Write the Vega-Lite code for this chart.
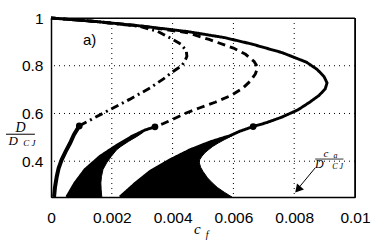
{
  "$schema": "https://vega.github.io/schema/vega-lite/v6.json",
  "width": 304,
  "height": 179,
  "autosize": "none",
  "padding": {"left": 51, "top": 18, "right": 37, "bottom": 45},
  "background": "white",
  "config": {
    "view": {"stroke": "black", "strokeWidth": 1},
    "axis": {"labelFont": "Liberation Sans", "labelFontSize": 15.5, "labelColor": "black", "ticks": false, "domainColor": "black", "domainWidth": 1.5, "grid": false, "labelFlush": false}
  },
  "datasets": {
    "curves": [
      {"curve": "S", "style": "solid", "ord": 0, "cf": 0, "D": 1},
      {"curve": "S", "style": "solid", "ord": 1, "cf": 0.0015, "D": 0.985},
      {"curve": "S", "style": "solid", "ord": 2, "cf": 0.003, "D": 0.966},
      {"curve": "S", "style": "solid", "ord": 3, "cf": 0.0045, "D": 0.943},
      {"curve": "S", "style": "solid", "ord": 4, "cf": 0.0057, "D": 0.918},
      {"curve": "S", "style": "solid", "ord": 5, "cf": 0.0066, "D": 0.891},
      {"curve": "S", "style": "solid", "ord": 6, "cf": 0.0076, "D": 0.855},
      {"curve": "S", "style": "solid", "ord": 7, "cf": 0.0084, "D": 0.815},
      {"curve": "S", "style": "solid", "ord": 8, "cf": 0.00875, "D": 0.785},
      {"curve": "S", "style": "solid", "ord": 9, "cf": 0.00898, "D": 0.755},
      {"curve": "S", "style": "solid", "ord": 10, "cf": 0.00908, "D": 0.728},
      {"curve": "S", "style": "solid", "ord": 11, "cf": 0.00902, "D": 0.703},
      {"curve": "S", "style": "solid", "ord": 12, "cf": 0.00882, "D": 0.676},
      {"curve": "S", "style": "solid", "ord": 13, "cf": 0.00852, "D": 0.648},
      {"curve": "S", "style": "solid", "ord": 14, "cf": 0.00812, "D": 0.615},
      {"curve": "S", "style": "solid", "ord": 15, "cf": 0.0076, "D": 0.585},
      {"curve": "S", "style": "solid", "ord": 16, "cf": 0.0071, "D": 0.562},
      {"curve": "S", "style": "solid", "ord": 17, "cf": 0.00665, "D": 0.545},
      {"curve": "L3", "style": "solid", "ord": 0, "cf": 0.00665, "D": 0.545},
      {"curve": "L3", "style": "solid", "ord": 1, "cf": 0.0062, "D": 0.525},
      {"curve": "L3", "style": "solid", "ord": 2, "cf": 0.00589, "D": 0.507},
      {"curve": "L3", "style": "solid", "ord": 3, "cf": 0.00524, "D": 0.481},
      {"curve": "L3", "style": "solid", "ord": 4, "cf": 0.00458, "D": 0.448},
      {"curve": "L3", "style": "solid", "ord": 5, "cf": 0.00392, "D": 0.406},
      {"curve": "L3", "style": "solid", "ord": 6, "cf": 0.00326, "D": 0.357},
      {"curve": "L3", "style": "solid", "ord": 7, "cf": 0.00275, "D": 0.305},
      {"curve": "L3", "style": "solid", "ord": 8, "cf": 0.00227, "D": 0.25},
      {"curve": "Dd", "style": "dash", "ord": 0, "cf": 0, "D": 1},
      {"curve": "Dd", "style": "dash", "ord": 1, "cf": 0.0015, "D": 0.985},
      {"curve": "Dd", "style": "dash", "ord": 2, "cf": 0.003, "D": 0.966},
      {"curve": "Dd", "style": "dash", "ord": 3, "cf": 0.0045, "D": 0.938},
      {"curve": "Dd", "style": "dash", "ord": 4, "cf": 0.0052, "D": 0.91},
      {"curve": "Dd", "style": "dash", "ord": 5, "cf": 0.006, "D": 0.874},
      {"curve": "Dd", "style": "dash", "ord": 6, "cf": 0.0064, "D": 0.848},
      {"curve": "Dd", "style": "dash", "ord": 7, "cf": 0.00668, "D": 0.818},
      {"curve": "Dd", "style": "dash", "ord": 8, "cf": 0.0068, "D": 0.793},
      {"curve": "Dd", "style": "dash", "ord": 9, "cf": 0.00672, "D": 0.765},
      {"curve": "Dd", "style": "dash", "ord": 10, "cf": 0.00655, "D": 0.735},
      {"curve": "Dd", "style": "dash", "ord": 11, "cf": 0.0063, "D": 0.705},
      {"curve": "Dd", "style": "dash", "ord": 12, "cf": 0.0059, "D": 0.674},
      {"curve": "Dd", "style": "dash", "ord": 13, "cf": 0.0054, "D": 0.647},
      {"curve": "Dd", "style": "dash", "ord": 14, "cf": 0.0049, "D": 0.624},
      {"curve": "Dd", "style": "dash", "ord": 15, "cf": 0.00445, "D": 0.602},
      {"curve": "Dd", "style": "dash", "ord": 16, "cf": 0.00403, "D": 0.577},
      {"curve": "Dd", "style": "dash", "ord": 17, "cf": 0.0037, "D": 0.558},
      {"curve": "Dd", "style": "dash", "ord": 18, "cf": 0.00342, "D": 0.544},
      {"curve": "L2", "style": "solid", "ord": 0, "cf": 0.00342, "D": 0.544},
      {"curve": "L2", "style": "solid", "ord": 1, "cf": 0.0031, "D": 0.531},
      {"curve": "L2", "style": "solid", "ord": 2, "cf": 0.00266, "D": 0.504},
      {"curve": "L2", "style": "solid", "ord": 3, "cf": 0.00211, "D": 0.462},
      {"curve": "L2", "style": "solid", "ord": 4, "cf": 0.00161, "D": 0.42},
      {"curve": "L2", "style": "solid", "ord": 5, "cf": 0.00112, "D": 0.365},
      {"curve": "L2", "style": "solid", "ord": 6, "cf": 0.00079, "D": 0.309},
      {"curve": "L2", "style": "solid", "ord": 7, "cf": 0.00052, "D": 0.25},
      {"curve": "DD", "style": "dashdot", "ord": 0, "cf": 0, "D": 1},
      {"curve": "DD", "style": "dashdot", "ord": 1, "cf": 0.0015, "D": 0.985},
      {"curve": "DD", "style": "dashdot", "ord": 2, "cf": 0.0029, "D": 0.965},
      {"curve": "DD", "style": "dashdot", "ord": 3, "cf": 0.0035, "D": 0.945},
      {"curve": "DD", "style": "dashdot", "ord": 4, "cf": 0.00395, "D": 0.914},
      {"curve": "DD", "style": "dashdot", "ord": 5, "cf": 0.00428, "D": 0.89},
      {"curve": "DD", "style": "dashdot", "ord": 6, "cf": 0.00445, "D": 0.862},
      {"curve": "DD", "style": "dashdot", "ord": 7, "cf": 0.00447, "D": 0.84},
      {"curve": "DD", "style": "dashdot", "ord": 8, "cf": 0.0044, "D": 0.818},
      {"curve": "DD", "style": "dashdot", "ord": 9, "cf": 0.0043, "D": 0.8},
      {"curve": "DD", "style": "dashdot", "ord": 10, "cf": 0.00403, "D": 0.777},
      {"curve": "DD", "style": "dashdot", "ord": 11, "cf": 0.0037, "D": 0.745},
      {"curve": "DD", "style": "dashdot", "ord": 12, "cf": 0.00326, "D": 0.707},
      {"curve": "DD", "style": "dashdot", "ord": 13, "cf": 0.0026, "D": 0.66},
      {"curve": "DD", "style": "dashdot", "ord": 14, "cf": 0.00194, "D": 0.616},
      {"curve": "DD", "style": "dashdot", "ord": 15, "cf": 0.0014, "D": 0.58},
      {"curve": "DD", "style": "dashdot", "ord": 16, "cf": 0.00093, "D": 0.548}
    ],
    "lower1": [
      {"ord": 0, "cf": 0.00093, "D": 0.548},
      {"ord": 1, "cf": 0.00075, "D": 0.51},
      {"ord": 2, "cf": 0.00063, "D": 0.476},
      {"ord": 3, "cf": 0.00048, "D": 0.44},
      {"ord": 4, "cf": 0.00035, "D": 0.406},
      {"ord": 5, "cf": 0.00025, "D": 0.37},
      {"ord": 6, "cf": 0.00019, "D": 0.336},
      {"ord": 7, "cf": 0.00013, "D": 0.29},
      {"ord": 8, "cf": 0.0001, "D": 0.25}
    ],
    "regions": [
      {"region": "R2", "D": 0.25, "left": 0.00052, "right": 0.00167},
      {"region": "R2", "D": 0.28, "left": 0.00066, "right": 0.00165},
      {"region": "R2", "D": 0.309, "left": 0.00079, "right": 0.00164},
      {"region": "R2", "D": 0.336, "left": 0.00095, "right": 0.00166},
      {"region": "R2", "D": 0.365, "left": 0.00112, "right": 0.00171},
      {"region": "R2", "D": 0.393, "left": 0.00135, "right": 0.00183},
      {"region": "R2", "D": 0.42, "left": 0.00161, "right": 0.00198},
      {"region": "R2", "D": 0.448, "left": 0.0019, "right": 0.00216},
      {"region": "R2", "D": 0.462, "left": 0.00211, "right": 0.0023},
      {"region": "R2", "D": 0.483, "left": 0.00238, "right": 0.00255},
      {"region": "R2", "D": 0.504, "left": 0.00266, "right": 0.00283},
      {"region": "R2", "D": 0.52, "left": 0.00292, "right": 0.00302},
      {"region": "R3", "D": 0.25, "left": 0.00227, "right": 0.00595},
      {"region": "R3", "D": 0.27, "left": 0.00245, "right": 0.0057},
      {"region": "R3", "D": 0.29, "left": 0.00264, "right": 0.00547},
      {"region": "R3", "D": 0.31, "left": 0.00282, "right": 0.0053},
      {"region": "R3", "D": 0.33, "left": 0.003, "right": 0.00515},
      {"region": "R3", "D": 0.357, "left": 0.00326, "right": 0.005},
      {"region": "R3", "D": 0.375, "left": 0.00348, "right": 0.00492},
      {"region": "R3", "D": 0.393, "left": 0.00373, "right": 0.00488},
      {"region": "R3", "D": 0.406, "left": 0.00392, "right": 0.00489},
      {"region": "R3", "D": 0.42, "left": 0.00412, "right": 0.00496},
      {"region": "R3", "D": 0.435, "left": 0.00435, "right": 0.00506},
      {"region": "R3", "D": 0.448, "left": 0.00458, "right": 0.00518},
      {"region": "R3", "D": 0.462, "left": 0.00485, "right": 0.00532},
      {"region": "R3", "D": 0.476, "left": 0.00513, "right": 0.0055},
      {"region": "R3", "D": 0.49, "left": 0.00545, "right": 0.0057},
      {"region": "R3", "D": 0.502, "left": 0.00578, "right": 0.00589},
      {"region": "R3", "D": 0.507, "left": 0.00589, "right": 0.00595}
    ],
    "dots": [
      {"cf": 0.00093, "D": 0.548},
      {"cf": 0.00342, "D": 0.544},
      {"cf": 0.00665, "D": 0.545}
    ]
  },
  "layer": [
    {
      "data": {"name": "curves"},
      "mark": {"type": "line", "color": "black", "strokeWidth": 2.9, "strokeCap": "butt"},
      "encoding": {
        "x": {"field": "cf", "type": "quantitative", "title": null, "scale": {"domain": [0, 0.01], "nice": false, "zero": false},
              "axis": {"values": [0, 0.002, 0.004, 0.006, 0.008, 0.01], "format": "~g", "labelPadding": 13}},
        "y": {"field": "D", "type": "quantitative", "title": null, "scale": {"domain": [0.25, 1], "nice": false, "zero": false},
              "axis": {"values": [0.4, 0.6, 0.8, 1], "format": "~g", "labelPadding": 8}},
        "detail": {"field": "curve", "type": "nominal"},
        "order": {"field": "ord", "type": "quantitative"},
        "strokeDash": {"field": "style", "type": "nominal", "scale": {"domain": ["solid", "dash", "dashdot"], "range": [[1, 0], [8, 5], [8, 4, 2, 4]]}, "legend": null}
      }
    },
    {
      "data": {"values": [{}]},
      "mark": {"type": "rule", "color": "black", "strokeWidth": 1, "strokeDash": [1, 4]},
      "encoding": {"x": {"datum": 0.002, "type": "quantitative", "title": null}}
    },
    {
      "data": {"values": [{}]},
      "mark": {"type": "rule", "color": "black", "strokeWidth": 1, "strokeDash": [1, 4]},
      "encoding": {"x": {"datum": 0.004, "type": "quantitative", "title": null}}
    },
    {
      "data": {"values": [{}]},
      "mark": {"type": "rule", "color": "black", "strokeWidth": 1, "strokeDash": [1, 4]},
      "encoding": {"x": {"datum": 0.006, "type": "quantitative", "title": null}}
    },
    {
      "data": {"values": [{}]},
      "mark": {"type": "rule", "color": "black", "strokeWidth": 1, "strokeDash": [1, 4]},
      "encoding": {"x": {"datum": 0.008, "type": "quantitative", "title": null}}
    },
    {
      "data": {"values": [{}]},
      "mark": {"type": "rule", "color": "black", "strokeWidth": 1, "strokeDash": [1, 4]},
      "encoding": {"y": {"datum": 0.4, "type": "quantitative", "title": null}}
    },
    {
      "data": {"values": [{}]},
      "mark": {"type": "rule", "color": "black", "strokeWidth": 1, "strokeDash": [1, 4]},
      "encoding": {"y": {"datum": 0.6, "type": "quantitative", "title": null}}
    },
    {
      "data": {"values": [{}]},
      "mark": {"type": "rule", "color": "black", "strokeWidth": 1, "strokeDash": [1, 4]},
      "encoding": {"y": {"datum": 0.8, "type": "quantitative", "title": null}}
    },
    {
      "data": {"values": [{}]},
      "mark": {"type": "rule", "color": "black", "strokeWidth": 1.6},
      "encoding": {
        "x": {"datum": 0.01, "type": "quantitative", "title": null},
        "y": {"datum": 0.25, "type": "quantitative", "title": null},
        "y2": {"datum": 1}
      }
    },
    {
      "data": {"values": [{}]},
      "mark": {"type": "rule", "color": "black", "strokeWidth": 1.2},
      "encoding": {
        "y": {"datum": 1, "type": "quantitative", "title": null},
        "x": {"datum": 0, "type": "quantitative", "title": null},
        "x2": {"datum": 0.01}
      }
    },
    {
      "data": {"name": "regions"},
      "mark": {"type": "area", "orient": "horizontal", "color": "black", "stroke": "black", "strokeWidth": 1},
      "encoding": {
        "y": {"field": "D", "type": "quantitative", "title": null},
        "x": {"field": "left", "type": "quantitative", "title": null},
        "x2": {"field": "right"},
        "detail": {"field": "region", "type": "nominal"}
      }
    },
    {
      "data": {"name": "lower1"},
      "mark": {"type": "line", "color": "black", "strokeWidth": 4},
      "encoding": {
        "x": {"field": "cf", "type": "quantitative", "title": null},
        "y": {"field": "D", "type": "quantitative", "title": null},
        "order": {"field": "ord", "type": "quantitative"}
      }
    },
    {
      "data": {"name": "dots"},
      "mark": {"type": "point", "filled": true, "color": "black", "size": 45, "opacity": 1},
      "encoding": {
        "x": {"field": "cf", "type": "quantitative", "title": null},
        "y": {"field": "D", "type": "quantitative", "title": null}
      }
    },
    {
      "data": {"values": [{}]},
      "mark": {"type": "text", "text": "a)", "font": "Liberation Sans", "fontSize": 15, "align": "center", "baseline": "alphabetic"},
      "encoding": {
        "x": {"datum": 0.00127, "type": "quantitative", "title": null},
        "y": {"datum": 0.886, "type": "quantitative", "title": null}
      }
    },
    {
      "data": {"values": [{}]},
      "mark": {"type": "text", "text": "D", "font": "Liberation Serif", "fontStyle": "italic", "fontSize": 14, "align": "center", "baseline": "alphabetic"},
      "encoding": {
        "x": {"datum": -0.001, "type": "quantitative", "title": null},
        "y": {"datum": 0.524, "type": "quantitative", "title": null}
      }
    },
    {
      "data": {"values": [{}]},
      "mark": {"type": "rule", "color": "black", "strokeWidth": 1},
      "encoding": {
        "x": {"datum": -0.00148, "type": "quantitative", "title": null},
        "x2": {"datum": -0.00053},
        "y": {"datum": 0.513, "type": "quantitative", "title": null}
      }
    },
    {
      "data": {"values": [{}]},
      "mark": {"type": "text", "text": "D", "font": "Liberation Serif", "fontStyle": "italic", "fontSize": 13, "align": "center", "baseline": "alphabetic"},
      "encoding": {
        "x": {"datum": -0.00124, "type": "quantitative", "title": null},
        "y": {"datum": 0.468, "type": "quantitative", "title": null}
      }
    },
    {
      "data": {"values": [{}]},
      "mark": {"type": "text", "text": "C  J", "font": "Liberation Serif", "fontStyle": "italic", "fontSize": 9, "align": "center", "baseline": "alphabetic"},
      "encoding": {
        "x": {"datum": -0.00071, "type": "quantitative", "title": null},
        "y": {"datum": 0.462, "type": "quantitative", "title": null}
      }
    },
    {
      "data": {"values": [{}]},
      "mark": {"type": "text", "text": "c", "font": "Liberation Serif", "fontStyle": "italic", "fontSize": 15, "align": "center", "baseline": "alphabetic"},
      "encoding": {
        "x": {"datum": 0.00481, "type": "quantitative", "title": null},
        "y": {"datum": 0.096, "type": "quantitative", "title": null}
      }
    },
    {
      "data": {"values": [{}]},
      "mark": {"type": "text", "text": "f", "font": "Liberation Serif", "fontStyle": "italic", "fontSize": 10, "align": "center", "baseline": "alphabetic"},
      "encoding": {
        "x": {"datum": 0.00514, "type": "quantitative", "title": null},
        "y": {"datum": 0.078, "type": "quantitative", "title": null}
      }
    },
    {
      "data": {"values": [{}]},
      "mark": {"type": "text", "text": "c", "font": "Liberation Serif", "fontStyle": "italic", "fontSize": 11, "align": "center", "baseline": "alphabetic"},
      "encoding": {
        "x": {"datum": 0.00904, "type": "quantitative", "title": null},
        "y": {"datum": 0.416, "type": "quantitative", "title": null}
      }
    },
    {
      "data": {"values": [{}]},
      "mark": {"type": "text", "text": "a", "font": "Liberation Serif", "fontStyle": "italic", "fontSize": 8, "align": "center", "baseline": "alphabetic"},
      "encoding": {
        "x": {"datum": 0.00936, "type": "quantitative", "title": null},
        "y": {"datum": 0.412, "type": "quantitative", "title": null}
      }
    },
    {
      "data": {"values": [{}]},
      "mark": {"type": "rule", "color": "black", "strokeWidth": 0.8},
      "encoding": {
        "x": {"datum": 0.00869, "type": "quantitative", "title": null},
        "x2": {"datum": 0.00962},
        "y": {"datum": 0.409, "type": "quantitative", "title": null}
      }
    },
    {
      "data": {"values": [{}]},
      "mark": {"type": "text", "text": "D", "font": "Liberation Serif", "fontStyle": "italic", "fontSize": 12, "align": "center", "baseline": "alphabetic"},
      "encoding": {
        "x": {"datum": 0.00883, "type": "quantitative", "title": null},
        "y": {"datum": 0.37, "type": "quantitative", "title": null}
      }
    },
    {
      "data": {"values": [{}]},
      "mark": {"type": "text", "text": "C  J", "font": "Liberation Serif", "fontStyle": "italic", "fontSize": 8, "align": "center", "baseline": "alphabetic"},
      "encoding": {
        "x": {"datum": 0.00943, "type": "quantitative", "title": null},
        "y": {"datum": 0.368, "type": "quantitative", "title": null}
      }
    },
    {
      "data": {"values": [{}]},
      "mark": {"type": "rule", "color": "black", "strokeWidth": 1},
      "encoding": {
        "x": {"datum": 0.00869, "type": "quantitative", "title": null},
        "x2": {"datum": 0.00808},
        "y": {"datum": 0.372, "type": "quantitative", "title": null},
        "y2": {"datum": 0.278}
      }
    },
    {
      "data": {"values": [{}]},
      "mark": {"type": "point", "shape": "triangle-down", "filled": true, "color": "black", "opacity": 1, "size": 85, "angle": 41},
      "encoding": {
        "x": {"datum": 0.00812, "type": "quantitative", "title": null},
        "y": {"datum": 0.281, "type": "quantitative", "title": null}
      }
    }
  ]
}
